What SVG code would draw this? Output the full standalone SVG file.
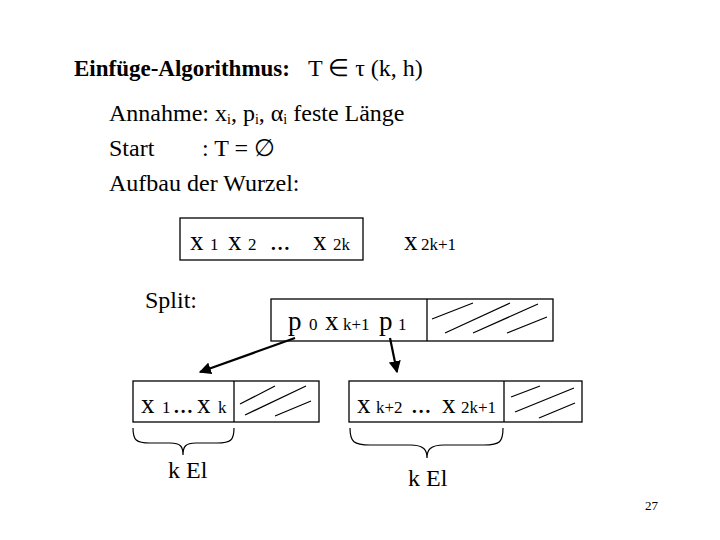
<svg xmlns="http://www.w3.org/2000/svg" width="720" height="540" viewBox="0 0 720 540">
<style>
text{font-family:"Liberation Serif","Times New Roman",serif;fill:#000}
.t{font-size:24px}
.b{font-size:23px;font-weight:bold}
.v{font-size:27px}
.s{font-size:17px}
.box{fill:none;stroke:#000;stroke-width:1.3}
.h{stroke:#000;stroke-width:1.2;fill:none}
.br{stroke:#000;stroke-width:1.2;fill:none}
.c{stroke:#000;stroke-width:2.2;fill:none}
</style>
<defs>
<marker id="ah" viewBox="0 0 10 10" refX="9" refY="5" markerWidth="5.5" markerHeight="5.5" orient="auto" markerUnits="strokeWidth">
<path d="M0,0 L10,5 L0,10 z" fill="#000"/>
</marker>
</defs>
<rect width="720" height="540" fill="#fff"/>
<g id="title">
<text x="74" y="76"><tspan class="b">Einfüge-Algorithmus:</tspan><tspan class="t" x="308">T ∈ τ (k, h)</tspan></text>
</g>
<g id="text-lines">
<text class="t" x="109" y="121">Annahme: x<tspan font-size="14" dy="3">i</tspan><tspan dy="-3">, p</tspan><tspan font-size="14" dy="3">i</tspan><tspan dy="-3">, α</tspan><tspan font-size="14" dy="3">i</tspan><tspan dy="-3"> feste Länge</tspan></text>
<text class="t" x="109" y="156">Start</text>
<text class="t" x="202" y="156">: T = ∅</text>
<text class="t" x="109" y="191">Aufbau der Wurzel:</text>
<text class="t" x="145" y="308">Split:</text>
</g>
<g id="root">
<rect class="box" x="180" y="218" width="183" height="42"/>
<text x="190" y="250"><tspan class="v">x</tspan><tspan class="s" x="210">1</tspan><tspan class="v" x="228">x</tspan><tspan class="s" x="248">2</tspan><tspan class="v" x="270">...</tspan><tspan class="v" x="313">x</tspan><tspan class="s" x="333">2k</tspan></text>
<text x="404" y="250"><tspan class="v">x</tspan><tspan class="s" x="421">2k+1</tspan></text>
</g>
<g id="split-node">
<rect class="box" x="271" y="299" width="282" height="42"/>
<line class="box" x1="427" y1="299" x2="427" y2="341"/>
<text x="288" y="330"><tspan class="v">p</tspan><tspan class="s" x="309">0</tspan><tspan class="v" x="325">x</tspan><tspan class="s" x="343">k+1</tspan><tspan class="v" x="379">p</tspan><tspan class="s" x="398">1</tspan></text>
<path class="h" d="M432,319 L473,303 M445,333 L510,303 M473,333 L538,304 M507,333 L547,317"/>
</g>
<g id="left-node">
<rect class="box" x="133" y="381" width="186" height="41"/>
<line class="box" x1="234" y1="381" x2="234" y2="422"/>
<text x="141" y="413"><tspan class="v">x</tspan><tspan class="s" x="162">1</tspan><tspan class="v" x="173">...</tspan><tspan class="v" x="197">x</tspan><tspan class="s" x="218">k</tspan></text>
<path class="h" d="M240,404 L275,386 M245,415 L306,386 M275,416 L311,401"/>
</g>
<g id="right-node">
<rect class="box" x="349" y="381" width="233" height="41"/>
<line class="box" x1="504" y1="381" x2="504" y2="422"/>
<text x="357" y="413"><tspan class="v">x</tspan><tspan class="s" x="376">k+2</tspan><tspan class="v" x="411">...</tspan><tspan class="v" x="442">x</tspan><tspan class="s" x="461">2k+1</tspan></text>
<path class="h" d="M511,397 L540,386 M515,412 L574,388 M539,418 L575,403"/>
</g>
<g id="braces">
<path class="br" d="M133,428 C133,440 136,443 150,443 L170,443 C181,443 183,447 183,455 C183,447 185,443 196,443 L217,443 C231,443 234,440 234,428"/>
<path class="br" d="M350,428 C350,442 354,445 370,445 L410,445 C424,445 427,450 427,458 C427,450 430,445 444,445 L484,445 C500,445 503,442 503,428"/>
<text class="t" x="168" y="478">k El</text>
<text class="t" x="408" y="486">k El</text>
</g>
<g id="connectors">
<line class="c" x1="295" y1="338" x2="200" y2="372" marker-end="url(#ah)"/>
<line class="c" x1="390" y1="338" x2="397" y2="372" marker-end="url(#ah)"/>
</g>
<text x="645" y="510" font-size="13">27</text>
</svg>
